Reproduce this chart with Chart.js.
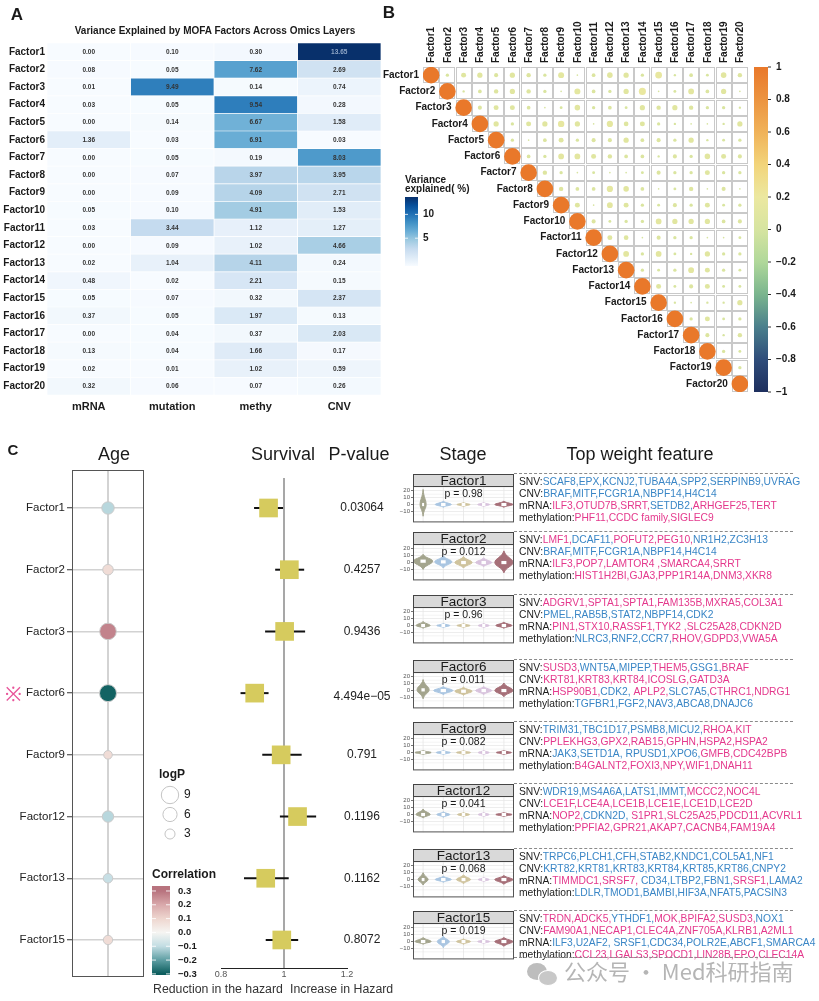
<!DOCTYPE html>
<html>
<head>
<meta charset="utf-8">
<script src="https://cdn.jsdelivr.net/npm/chart.js@4.4.0/dist/chart.umd.min.js"></script>
<style>
  body { margin: 0; width: 819px; height: 1001px; position: relative; background: #fff; overflow: hidden;
         font-family: Arial, 'Liberation Sans', sans-serif; color: #1a1a1a; }
  canvas { position: absolute; }
  .t { position: absolute; white-space: nowrap; }
  .c { transform: translate(-50%, -50%); }
  .feat { position: absolute; white-space: nowrap; font-size: 10.3px; line-height: 12px; color: #1a1a1a; }
  .dash { position: absolute; left: 514px; width: 279px; border-top: 1px dashed #8a8a8a; }
  .b { color: #3a86c6; }
  .p { color: #e4388c; }
</style>
</head>
<body>
<canvas id="heat" width="385" height="420" style="left:0;top:0"></canvas>
<canvas id="corr" width="439" height="410" style="left:380px;top:0"></canvas>
<canvas id="age" width="220" height="560" style="left:0;top:440px"></canvas>
<canvas id="forest" width="200" height="560" style="left:200px;top:440px"></canvas>
<div id="stages"></div>
<div id="texts"></div>

<script>
// ---- panel A: variance explained ----
const factors = ['Factor1','Factor2','Factor3','Factor4','Factor5','Factor6','Factor7','Factor8','Factor9','Factor10',
                 'Factor11','Factor12','Factor13','Factor14','Factor15','Factor16','Factor17','Factor18','Factor19','Factor20'];
const omics = ['mRNA', 'mutation', 'methy', 'CNV'];
const varMRNA     = [0.00,0.08,0.01,0.03,0.00,1.36,0.00,0.00,0.00,0.05,0.03,0.00,0.02,0.48,0.05,0.37,0.00,0.13,0.02,0.32];
const varMutation = [0.10,0.05,9.49,0.05,0.14,0.03,0.05,0.07,0.09,0.10,3.44,0.09,1.04,0.02,0.07,0.05,0.04,0.04,0.01,0.06];
const varMethy    = [0.30,7.62,0.14,9.54,6.67,6.91,0.19,3.97,4.09,4.91,1.12,1.02,4.11,2.21,0.32,1.97,0.37,1.66,1.02,0.07];
const varCNV      = [13.65,2.69,0.74,0.28,1.58,0.03,8.03,3.95,2.71,1.53,1.27,4.66,0.24,0.15,2.37,0.13,2.03,0.17,0.59,0.26];
const varTicks = [10, 5];

// ---- panel B: factor correlations (upper triangle, row i starts at column i+1) ----
const corrUpper = [
  [0.04,0.09,0.10,0.06,0.10,0.07,0.04,0.13,0.01,0.05,0.11,0.10,0.04,0.16,0.02,0.05,0.03,0.11,0.07],
  [0.02,0.05,0.07,0.10,0.07,0.04,0.01,0.13,0.05,0.04,0.10,0.18,0.01,0.03,0.12,0.05,0.10,0.01],
  [0.06,0.09,0.09,0.05,0.01,0.03,0.11,0.04,0.05,0.03,0.10,0.07,0.10,0.07,0.04,0.04,0.02],
  [0.10,0.04,0.09,0.10,0.15,0.10,0.01,0.14,0.08,0.09,0.04,0.02,0.01,0.01,0.02,0.10],
  [0.04,0.01,0.05,0.09,0.04,0.06,0.06,0.10,0.05,0.06,0.04,0.10,0.02,0.03,0.04],
  [0.05,0.04,0.12,0.12,0.09,0.07,0.05,0.05,0.02,0.06,0.04,0.11,0.09,0.06],
  [0.07,0.04,0.01,0.03,0.01,0.01,0.03,0.06,0.04,0.04,0.09,0.04,0.04],
  [0.07,0.05,0.05,0.14,0.11,0.05,0.01,0.03,0.07,0.01,0.06,0.01],
  [0.09,0.01,0.12,0.09,0.04,0.03,0.06,0.04,0.09,0.03,0.04],
  [0.06,0.03,0.04,0.04,0.12,0.10,0.10,0.10,0.05,0.06],
  [0.09,0.08,0.01,0.06,0.04,0.04,0.01,0.01,0.03],
  [0.12,0.04,0.12,0.03,0.02,0.10,0.04,0.04],
  [0.04,0.03,0.04,0.12,0.09,0.04,0.03],
  [0.09,0.03,0.06,0.09,0.03,0.03],
  [0.02,0.01,0.02,0.02,0.10],
  [0.04,0.09,0.03,0.04],
  [0.06,0.02,0.07],
  [0.04,0.03],
  [0.04]
];
const corrTicks = [1, 0.8, 0.6, 0.4, 0.2, 0, -0.2, -0.4, -0.6, -0.8, -1];

// ---- panel C ----
const cFactors = ['Factor1','Factor2','Factor3','Factor6','Factor9','Factor12','Factor13','Factor15'];
const ageCorr = [-0.11, 0.08, 0.27, -0.29, 0.08, -0.11, -0.09, 0.08];
const ageLogP = [4.6, 3.3, 8.2, 8.6, 2.2, 3.9, 2.7, 2.6];
const logPLegend = [9, 6, 3];
const corrLegend = [0.3, 0.2, 0.1, 0.0, -0.1, -0.2, -0.3];
const hrMid  = [0.951, 1.017, 1.002, 0.907, 0.991, 1.043, 0.942, 0.993];
const hrLow  = [0.905, 0.972, 0.940, 0.862, 0.931, 0.987, 0.873, 0.942];
const hrHigh = [0.997, 1.064, 1.067, 0.951, 1.056, 1.102, 1.015, 1.045];
const hrTicks = [0.8, 1, 1.2];
const survP = ['0.03064', '0.4257', '0.9436', '4.494e\u221205', '0.791', '0.1196', '0.1162', '0.8072'];

const stageP = ['0.98', '0.012', '0.96', '0.011', '0.082', '0.041', '0.068', '0.019'];
const stageTicks = [20, 10, 0, -10];
// violin summaries per factor, 5 stage groups each
const stageMin = [[-17,-4,-3,-3,-4],[-10,-8,-8,-6,-15],[-4,-3,-3,-3,-4],[-12,-6,-7,-6,-9],
                  [-3,-3,-3,-3,-3],[-5,-4,-3,-3,-3],[-8,-4,-6,-3,-7],[-4,-9,-4,-3,-7]];
const stageMax = [[22,5,3,3,5],[12,10,9,7,17],[6,3,3,3,5],[16,6,5,6,11],
                  [3,3,3,3,3],[8,4,3,3,3],[10,5,7,3,6],[6,8,4,3,6]];
const stagePeak = [[0,0,0,0,0],[2,1,0,0,0],[0,0,0,0,0],[1,0,-1,0,0],
                   [0,0,0,0,0],[0,0,0,0,0],[0,0,0,0,0],[0,0,0,0,0]];
const stageWidth = [[0.3,0.8,0.65,0.6,0.9],[0.95,0.85,0.85,0.8,0.9],[0.7,0.65,0.65,0.55,0.8],[0.6,0.95,0.85,0.8,0.9],
                    [0.8,0.7,0.7,0.55,0.75],[0.7,0.65,0.6,0.55,0.8],[0.5,0.8,0.7,0.55,0.9],[0.8,0.6,0.7,0.6,0.9]];

// '+' marks a feature written in pink, others in blue
const featSNV = [
  'SCAF8,EPX,KCNJ2,TUBA4A,SPP2,SERPINB9,UVRAG',
  '+LMF1,DCAF11,+POFUT2,+PEG10,NR1H2,ZC3H13',
  '+ADGRV1,+SPTA1,+SPTA1,+FAM135B,+MXRA5,+COL3A1',
  '+SUSD3,WNT5A,MIPEP,+THEM5,GSG1,+BRAF',
  'TRIM31,TBC1D17,PSMB8,MICU2,+RHOA,+KIT',
  'WDR19,MS4A6A,LATS1,IMMT,+MCCC2,+NOC4L',
  'TRPC6,PLCH1,CFH,STAB2,KNDC1,COL5A1,NF1',
  '+TRDN,+ADCK5,YTHDF1,+MOK,+BPIFA2,+SUSD3,NOX1'];
const featCNV = [
  'BRAF,MITF,FCGR1A,NBPF14,H4C14',
  'BRAF,MITF,FCGR1A,NBPF14,H4C14',
  'PMEL,RAB5B,STAT2,NBPF14,CDK2',
  '+KRT81,+KRT83,+KRT84,+ICOSLG,+GATD3A',
  '+PPLEKHG3,+GPX2,+RAB15,+GPHN,+HSPA2,+HSPA2',
  '+LCE1F,+LCE4A,+LCE1B,+LCE1E,+LCE1D,+LCE2D',
  'KRT82,KRT81,KRT83,KRT84,KRT85,KRT86,CNPY2',
  '+FAM90A1,+NECAP1,+CLEC4A,+ZNF705A,+KLRB1,+A2ML1'];
const featMRNA = [
  '+ILF3,+OTUD7B,+SRRT,SETDB2,+ARHGEF25,+TERT',
  '+ILF3,+POP7,+LAMTOR4 ,+SMARCA4,+SRRT',
  '+PIN1,+STX10,+RASSF1,+TYK2 ,+SLC25A28,+CDKN2D',
  '+HSP90B1,CDK2, +APLP2,SLC7A5,+CTHRC1,+NDRG1',
  'JAK3,SETD1A, RPUSD1,XPO6,+GMFB,+CDC42BPB',
  '+NOP2,CDKN2D, +S1PR1,+SLC25A25,+PDCD11,+ACVRL1',
  '+TIMMDC1,+SRSF7, CD34,LTBP2,FBN1,+SRSF1,LAMA2',
  'ILF3,U2AF2, SRSF1,CDC34,POLR2E,ABCF1,SMARCA4'];
const featMeth = [
  '+PHF11,+CCDC family,+SIGLEC9',
  '+HIST1H2BI,+GJA3,+PPP1R14A,+DNM3,+XKR8',
  'NLRC3,RNF2,CCR7,+RHOV,+GDPD3,+VWA5A',
  'TGFBR1,FGF2,NAV3,ABCA8,DNAJC6',
  '+B4GALNT2,+FOXI3,+NPY,+WIF1,+DNAH11',
  '+PPFIA2,+GPR21,+AKAP7,+CACNB4,+FAM19A4',
  'LDLR,TMOD1,BAMBI,HIF3A,NFAT5,PACSIN3',
  '+CCL23,+LGALS3,+SPOCD1,+LIN28B,+EPO,+CLEC14A'];

// ---------------------------------------------------------------
Chart.defaults.font.family = "Arial, 'Liberation Sans', sans-serif";
Chart.defaults.color = '#1a1a1a';
Chart.defaults.animation = false;
Chart.defaults.responsive = false;
Chart.defaults.plugins.legend.display = false;
Chart.defaults.plugins.tooltip.enabled = false;

function hexRgb(h) { return [1, 3, 5].map(i => parseInt(h.slice(i, i + 2), 16)); }
function ramp(stops, t) {
  if (t <= stops[0][0]) return stops[0][1];
  for (let i = 1; i < stops.length; i++) {
    if (t <= stops[i][0]) {
      const [t0, c0] = stops[i - 1], [t1, c1] = stops[i];
      const f = (t - t0) / (t1 - t0), a = hexRgb(c0), b = hexRgb(c1);
      return 'rgb(' + a.map((v, k) => Math.round(v + (b[k] - v) * f)).join(',') + ')';
    }
  }
  return stops[stops.length - 1][1];
}
const bluesStops = [[0,'#f7fbff'],[0.125,'#deebf7'],[0.25,'#c6dbef'],[0.375,'#9ecae1'],[0.5,'#6baed6'],
                    [0.625,'#4292c6'],[0.75,'#2171b5'],[0.875,'#08519c'],[1,'#08306b']];
const corrStops = [[-1,'#1e2f5e'],[-0.8,'#2f4d7a'],[-0.6,'#4a7f8c'],[-0.4,'#7ab58e'],[-0.2,'#b0d89a'],[0,'#d6e4a0'],
                   [0.2,'#ece8a0'],[0.4,'#f2d47a'],[0.6,'#f0b259'],[0.8,'#ec9440'],[1,'#e9782a']];
const divStops = [[-0.3,'#0b5c5c'],[-0.2,'#5e9ea3'],[-0.1,'#c2dde3'],[0,'#f6f5f2'],[0.1,'#eed6cf'],[0.2,'#d9a9ab'],[0.3,'#b8737e']];
const varMax = 13.65;
const blues = v => ramp(bluesStops, v / varMax);

// ---- A: heatmap as stacked horizontal bars ----
const varCols = [varMRNA, varMutation, varMethy, varCNV];
const heatLabels = {
  id: 'heatLabels',
  afterDatasetsDraw(chart) {
    const ctx = chart.ctx;
    ctx.save();
    ctx.font = 'bold 6.5px Arial';
    ctx.textAlign = 'center';
    ctx.textBaseline = 'middle';
    varCols.forEach((vals, c) => {
      chart.getDatasetMeta(c).data.forEach((el, j) => {
        const p = el.getCenterPoint();
        ctx.fillStyle = vals[j] > 12 ? '#8fa6c6' : '#333';
        ctx.fillText(vals[j].toFixed(2), p.x, p.y + 0.5);
      });
    });
    ctx.restore();
  }
};
new Chart(document.getElementById('heat'), {
  type: 'bar',
  data: {
    labels: factors,
    datasets: varCols.map((vals, c) => ({
      label: omics[c],
      data: vals.map(() => 1),
      backgroundColor: ctx => blues(vals[ctx.dataIndex]),
      borderColor: '#ffffff',
      borderWidth: 0.7,
      borderSkipped: false,
      categoryPercentage: 1,
      barPercentage: 1
    }))
  },
  options: {
    indexAxis: 'y',
    layout: { padding: { top: 43, right: 4 } },
    scales: {
      x: {
        stacked: true, min: 0, max: 4,
        grid: { display: false, drawTicks: false }, border: { display: false },
        afterBuildTicks: ax => { ax.ticks = omics.map((o, i) => ({ value: i + 0.5 })); },
        ticks: { callback: v => omics[Math.floor(v)], font: { size: 11, weight: 'bold' }, padding: 5, maxRotation: 0, autoSkip: false },
        afterFit: ax => { ax.height = 25; }
      },
      y: {
        stacked: true,
        grid: { display: false, drawTicks: false }, border: { display: false },
        ticks: { font: { size: 10, weight: 'bold' }, padding: 2, autoSkip: false },
        afterFit: ax => { ax.width = 47; }
      }
    }
  },
  plugins: [heatLabels]
});

// ---- B: correlation plot ----
const corrPoints = [];
factors.forEach((f, i) => corrPoints.push({ x: i + 1, y: i + 1, v: 1 }));
corrUpper.forEach((row, r) => row.forEach((v, k) => corrPoints.push({ x: r + 2 + k, y: r + 1, v })));

const corrDecor = {
  id: 'corrDecor',
  beforeDatasetsDraw(chart) {
    const { ctx, scales: { x, y } } = chart;
    ctx.save();
    ctx.strokeStyle = '#c9c9c9';
    ctx.lineWidth = 1;
    for (let i = 1; i <= factors.length; i++) {
      for (let j = i; j <= factors.length; j++) {
        const x0 = x.getPixelForValue(j - 0.5), x1 = x.getPixelForValue(j + 0.5);
        const y0 = y.getPixelForValue(i - 0.5), y1 = y.getPixelForValue(i + 0.5);
        ctx.strokeRect(Math.round(x0) + 0.5, Math.round(y0) + 0.5, Math.round(x1 - x0) - 1, Math.round(y1 - y0) - 1);
      }
    }
    ctx.restore();
  },
  afterDraw(chart) {
    const { ctx, chartArea: a, scales: { x, y } } = chart;
    ctx.save();
    ctx.fillStyle = '#1a1a1a';
    ctx.font = 'bold 10px Arial';
    // row labels next to the diagonal
    ctx.textAlign = 'right';
    ctx.textBaseline = 'middle';
    factors.forEach((f, i) => ctx.fillText(f, x.getPixelForValue(i + 0.5) - 4, y.getPixelForValue(i + 1)));
    // column labels on top
    factors.forEach((f, i) => {
      ctx.save();
      ctx.translate(x.getPixelForValue(i + 1), a.top - 4);
      ctx.rotate(-Math.PI / 2);
      ctx.textAlign = 'left';
      ctx.fillText(f, 0, 0.5);
      ctx.restore();
    });
    // colour bar
    const bx = a.right + 6, bw = 14;
    const g = ctx.createLinearGradient(0, a.top, 0, a.bottom);
    corrStops.forEach(([t, c]) => g.addColorStop((1 - t) / 2, c));
    ctx.fillStyle = g;
    ctx.fillRect(bx, a.top, bw, a.bottom - a.top);
    ctx.strokeStyle = '#333';
    ctx.lineWidth = 1;
    ctx.fillStyle = '#1a1a1a';
    ctx.textAlign = 'left';
    corrTicks.forEach(t => {
      const ty = a.top + (1 - t) / 2 * (a.bottom - a.top);
      ctx.beginPath(); ctx.moveTo(bx + bw, ty); ctx.lineTo(bx + bw + 3, ty); ctx.stroke();
      ctx.fillText(t === 0 ? '0' : String(t).replace('-', '\u2212'), bx + bw + 8, ty);
    });
    // variance explained legend (for panel A)
    ctx.font = 'bold 10px Arial';
    ctx.textBaseline = 'alphabetic';
    ctx.fillText('Variance', 25, 183);
    ctx.fillText('explained( %)', 25, 191.5);
    const vTop = 197, vBot = 262, lx = 25, lw = 13;
    const vg = ctx.createLinearGradient(0, vTop, 0, vBot + 4);
    bluesStops.forEach(([t, c]) => vg.addColorStop(1 - t, c));
    ctx.fillStyle = vg;
    ctx.fillRect(lx, vTop, lw, vBot + 4 - vTop);
    ctx.textBaseline = 'middle';
    varTicks.forEach(v => {
      const ty = vBot - v / varMax * (vBot - vTop);
      ctx.strokeStyle = 'rgba(255,255,255,0.8)';
      ctx.beginPath(); ctx.moveTo(lx, ty); ctx.lineTo(lx + 3, ty); ctx.moveTo(lx + lw - 3, ty); ctx.lineTo(lx + lw, ty); ctx.stroke();
      ctx.fillStyle = '#1a1a1a';
      ctx.fillText(String(v), lx + lw + 5, ty);
    });
    ctx.restore();
  }
};
new Chart(document.getElementById('corr'), {
  type: 'scatter',
  data: {
    datasets: [{
      data: corrPoints,
      pointRadius: ctx => 8.3 * Math.sqrt(Math.abs(ctx.raw.v)),
      backgroundColor: ctx => ramp(corrStops, ctx.raw.v),
      borderWidth: 0
    }]
  },
  options: {
    layout: { padding: { left: 43, top: 67, right: 71, bottom: 18 } },
    scales: {
      x: { type: 'linear', min: 0.5, max: 20.5, display: false },
      y: { type: 'linear', min: 0.5, max: 20.5, reverse: true, display: false }
    }
  },
  plugins: [corrDecor]
});

// ---- C: age association ----
const logPRadius = v => Math.sqrt(8.4 * v);
const ageDecor = {
  id: 'ageDecor',
  beforeDatasetsDraw(chart) {
    const { ctx, chartArea: a, scales: { x } } = chart;
    ctx.save();
    ctx.strokeStyle = '#c8c8c8';
    ctx.lineWidth = 1.6;
    const cx = x.getPixelForValue(1);
    ctx.beginPath(); ctx.moveTo(cx, a.top); ctx.lineTo(cx, a.bottom); ctx.stroke();
    ctx.restore();
  },
  afterDraw(chart) {
    const { ctx, chartArea: a } = chart;
    ctx.save();
    ctx.strokeStyle = '#555';
    ctx.lineWidth = 1;
    ctx.strokeRect(a.left + 0.5, a.top + 0.5, a.right - a.left - 1, a.bottom - a.top - 1);
    // logP legend
    ctx.fillStyle = '#1a1a1a';
    ctx.font = 'bold 12px Arial';
    ctx.textBaseline = 'middle';
    ctx.fillText('logP', 159, 335);
    ctx.font = '12px Arial';
    logPLegend.forEach((v, i) => {
      const cy = 355 + i * 19.5;
      ctx.strokeStyle = '#c4c4c4';
      ctx.lineWidth = 1;
      ctx.beginPath(); ctx.arc(170, cy, logPRadius(v), 0, Math.PI * 2); ctx.stroke();
      ctx.fillText(String(v), 184, cy);
    });
    // correlation legend
    ctx.font = 'bold 12px Arial';
    ctx.fillText('Correlation', 152, 435);
    const top = 446, bot = 535, bx = 152, bw = 18;
    const hi = 0.336, lo = -0.308;
    const g = ctx.createLinearGradient(0, top, 0, bot);
    divStops.forEach(([t, c]) => g.addColorStop((hi - t) / (hi - lo), c));
    ctx.fillStyle = g;
    ctx.fillRect(bx, top, bw, bot - top);
    ctx.font = 'bold 9.5px Arial';
    corrLegend.forEach(v => {
      const ty = top + (hi - v) / (hi - lo) * (bot - top);
      ctx.strokeStyle = 'rgba(255,255,255,0.85)';
      ctx.beginPath(); ctx.moveTo(bx, ty); ctx.lineTo(bx + 4, ty); ctx.moveTo(bx + bw - 4, ty); ctx.lineTo(bx + bw, ty); ctx.stroke();
      ctx.fillStyle = '#1a1a1a';
      ctx.fillText(v.toFixed(1).replace('-', '\u2212'), bx + 26, ty);
    });
    ctx.restore();
  }
};
new Chart(document.getElementById('age'), {
  type: 'scatter',
  data: {
    datasets: [{
      data: cFactors.map((f, i) => ({ x: 1, y: i + 1 })),
      pointRadius: ctx => logPRadius(ageLogP[ctx.dataIndex]),
      backgroundColor: ctx => ramp(divStops, ageCorr[ctx.dataIndex]),
      borderColor: '#cacaca',
      borderWidth: 1
    }]
  },
  options: {
    layout: { padding: { top: 30, right: 76, bottom: 23 } },
    scales: {
      x: { type: 'linear', min: 0, max: 2, display: false },
      y: {
        type: 'linear', min: 0.384, max: 8.6, reverse: true,
        afterBuildTicks: ax => { ax.ticks = cFactors.map((f, i) => ({ value: i + 1 })); },
        ticks: { callback: v => cFactors[v - 1], font: { size: 11.5 }, color: '#222', padding: 2 },
        grid: { color: '#d2d2d2', lineWidth: 1.5, tickLength: 5, tickColor: '#333', tickWidth: 1 },
        border: { display: false },
        afterFit: ax => { ax.width = 72; }
      }
    }
  },
  plugins: [ageDecor]
});

// ---- C: survival forest plot ----
const forestDecor = {
  id: 'forestDecor',
  beforeDatasetsDraw(chart) {
    const { ctx, chartArea: a, scales: { x, y } } = chart;
    ctx.save();
    ctx.strokeStyle = '#8a8a8a';
    ctx.lineWidth = 1.5;
    const x1 = x.getPixelForValue(1);
    ctx.beginPath(); ctx.moveTo(x1, a.top); ctx.lineTo(x1, a.bottom); ctx.stroke();
    ctx.strokeStyle = '#111';
    ctx.lineWidth = 2;
    cFactors.forEach((f, i) => {
      const yy = y.getPixelForValue(i + 1);
      ctx.beginPath(); ctx.moveTo(x.getPixelForValue(hrLow[i]), yy); ctx.lineTo(x.getPixelForValue(hrHigh[i]), yy); ctx.stroke();
    });
    ctx.restore();
  },
  afterDraw(chart) {
    const { ctx, scales: { y } } = chart;
    ctx.save();
    ctx.fillStyle = '#222';
    ctx.font = '12px Arial';
    ctx.textAlign = 'center';
    ctx.textBaseline = 'middle';
    survP.forEach((p, i) => ctx.fillText(p, 162, y.getPixelForValue(i + 1) + (p.includes('e') ? 4 : 0)));
    ctx.restore();
  }
};
new Chart(document.getElementById('forest'), {
  type: 'scatter',
  data: {
    datasets: [{
      data: hrMid.map((v, i) => ({ x: v, y: i + 1 })),
      pointStyle: 'rect',
      pointRadius: 13.2,
      backgroundColor: '#d6cb5e',
      borderWidth: 0
    }]
  },
  options: {
    layout: { padding: { left: 21, right: 53, top: 38 } },
    scales: {
      x: {
        type: 'linear', min: 0.8, max: 1.2,
        afterBuildTicks: ax => { ax.ticks = hrTicks.map(v => ({ value: v })); },
        ticks: { callback: v => String(v), font: { size: 9 }, color: '#555', padding: 1 },
        grid: { display: false, drawTicks: false },
        border: { display: true, color: '#222', width: 1 },
        afterFit: ax => { ax.height = 32; }
      },
      y: { type: 'linear', min: 0.514, max: 8.454, reverse: true, display: false }
    }
  },
  plugins: [forestDecor]
});

// ---- C: stage violins ----
const blockTop = [473, 531, 594, 659, 721, 783, 848, 910];
const stageColors = ['#a3a48d', '#a9c5e1', '#cfc39d', '#d8c3dd', '#a66f78'];
function violinPath(ctx, cx, top, peak, bottom, hw) {
  const up = peak - top, dn = bottom - peak;
  ctx.beginPath();
  ctx.moveTo(cx, top);
  ctx.bezierCurveTo(cx + hw * 0.2, top + up * 0.55, cx + hw, peak - up * 0.35, cx + hw, peak);
  ctx.bezierCurveTo(cx + hw, peak + dn * 0.35, cx + hw * 0.2, bottom - dn * 0.55, cx, bottom);
  ctx.bezierCurveTo(cx - hw * 0.2, bottom - dn * 0.55, cx - hw, peak + dn * 0.35, cx - hw, peak);
  ctx.bezierCurveTo(cx - hw, peak - up * 0.35, cx - hw * 0.2, top + up * 0.55, cx, top);
  ctx.closePath();
}
cFactors.forEach((name, k) => {
  const cv = document.createElement('canvas');
  cv.width = 120; cv.height = 54;
  cv.style.left = '395px'; cv.style.top = blockTop[k] + 'px';
  document.getElementById('stages').appendChild(cv);
  const decor = {
    id: 'stageDecor',
    beforeDatasetsDraw(chart) {
      const { ctx, chartArea: a, scales: { x, y } } = chart;
      ctx.save();
      ctx.strokeStyle = '#f0f0f0';
      ctx.lineWidth = 0.8;
      [25, 15, 5, -5, -15, -25].forEach(v => {
        const yy = y.getPixelForValue(v);
        ctx.beginPath(); ctx.moveTo(a.left, yy); ctx.lineTo(a.right, yy); ctx.stroke();
      });
      ctx.strokeStyle = '#e6e6e6';
      stageColors.forEach((c, g) => {
        const xx = x.getPixelForValue(g + 1);
        ctx.beginPath(); ctx.moveTo(xx, a.top); ctx.lineTo(xx, a.bottom); ctx.stroke();
      });
      ctx.beginPath(); ctx.rect(a.left, a.top, a.right - a.left, a.bottom - a.top); ctx.clip();
      stageColors.forEach((c, g) => {
        const cx = x.getPixelForValue(g + 1);
        const half = (x.getPixelForValue(2) - x.getPixelForValue(1)) / 2;
        const hw = stageWidth[k][g] * half;
        const pk = y.getPixelForValue(stagePeak[k][g]);
        violinPath(ctx, cx, y.getPixelForValue(stageMax[k][g]), pk, y.getPixelForValue(stageMin[k][g]), hw);
        ctx.fillStyle = c;
        ctx.fill();
        ctx.strokeStyle = c;
        ctx.lineWidth = 1;
        ctx.stroke();
        const bw = Math.max(2, hw * 0.55);
        ctx.fillStyle = '#ffffff';
        ctx.fillRect(cx - bw / 2, pk - 1.6, bw, 3.2);
      });
      ctx.restore();
    },
    afterDraw(chart) {
      const { ctx, chartArea: a } = chart;
      const cx = (a.left + a.right) / 2;
      ctx.save();
      ctx.strokeStyle = '#555';
      ctx.lineWidth = 1;
      ctx.strokeRect(a.left + 0.5, a.top + 0.5, a.right - a.left - 1, a.bottom - a.top - 1);
      ctx.fillStyle = '#d9d9d9';
      ctx.fillRect(a.left, 1, a.right - a.left, a.top - 1);
      ctx.strokeStyle = '#444';
      ctx.strokeRect(a.left + 0.5, 1.5, a.right - a.left - 1, a.top - 1);
      ctx.fillStyle = '#1a1a1a';
      ctx.textAlign = 'center';
      ctx.textBaseline = 'middle';
      ctx.font = '13.5px Arial';
      ctx.fillText(name, cx, a.top / 2 + 1.5);
      ctx.font = '10.5px Arial';
      ctx.fillText('p = ' + stageP[k], cx, a.top + 8);
      ctx.restore();
    }
  };
  new Chart(cv, {
    type: 'scatter',
    data: { datasets: [{ data: stagePeak[k].map((v, g) => ({ x: g + 1, y: v })), pointRadius: 0 }] },
    options: {
      layout: { padding: { top: 13, right: 1, bottom: 3 } },
      scales: {
        x: { type: 'linear', min: 0.5, max: 5.5, display: false },
        y: {
          type: 'linear', min: -26, max: 27,
          afterBuildTicks: ax => { ax.ticks = stageTicks.map(v => ({ value: v })); },
          ticks: { callback: v => String(v).replace('-', '\u2212'), font: { size: 6 }, color: '#555', padding: 1 },
          grid: { color: '#e8e8e8', lineWidth: 0.8, tickLength: 2, tickColor: '#555' },
          border: { display: false },
          afterFit: ax => { ax.width = 18; }
        }
      }
    },
    plugins: [decor]
  });
});

// ---- text ----
const texts = document.getElementById('texts');
function addText(html, x, y, style, centered) {
  const d = document.createElement('div');
  d.className = 't' + (centered ? ' c' : '');
  d.style.cssText += 'left:' + x + 'px;top:' + y + 'px;' + (style || '');
  d.innerHTML = html;
  texts.appendChild(d);
  return d;
}
addText('A', 17, 15, 'font-weight:bold;font-size:17px', true);
addText('B', 389, 13, 'font-weight:bold;font-size:17px', true);
addText('C', 13, 449, 'font-weight:bold;font-size:15px', true);
addText('Variance Explained by MOFA Factors Across Omics Layers', 215, 30, 'font-weight:bold;font-size:10px', true);
addText('Age', 114, 454, 'font-size:18px', true);
addText('Survival', 283, 454, 'font-size:18px', true);
addText('P-value', 359, 454, 'font-size:18px', true);
addText('Stage', 463, 454, 'font-size:18px', true);
addText('Top weight feature', 640, 454, 'font-size:18px', true);
addText('\u203B', 13, 693, 'font-size:20px;color:#e8559a', true);
addText('Reduction in the hazard', 153, 982, 'font-size:12.3px;color:#333');
addText('Increase in Hazard', 290, 982, 'font-size:12.3px;color:#333');

function featHtml(prefix, str) {
  const parts = str.split(',');
  let cls = 'b';
  return prefix + parts.map((tok, i) => {
    cls = tok.includes('+') ? 'p' : 'b';
    const comma = i < parts.length - 1 ? ',' : '';
    return '<span class="' + cls + '">' + tok.replace('+', '').replace(/ /g, '&nbsp;') + comma + '</span>';
  }).join('');
}
cFactors.forEach((name, k) => {
  const top = blockTop[k];
  const dl = document.createElement('div');
  dl.className = 'dash';
  dl.style.top = top + 'px';
  texts.appendChild(dl);
  [['SNV:', featSNV[k]], ['CNV:', featCNV[k]], ['mRNA:', featMRNA[k]], ['methylation:', featMeth[k]]].forEach(([pre, s], l) => {
    const d = document.createElement('div');
    d.className = 'feat';
    d.style.left = '519px';
    d.style.top = (top + 3 + l * 11.9) + 'px';
    d.innerHTML = featHtml(pre, s);
    texts.appendChild(d);
  });
});
const lastDash = document.createElement('div');
lastDash.className = 'dash';
lastDash.style.top = '957px';
texts.appendChild(lastDash);

// watermark
addText('<span style="display:inline-block;position:relative;width:32px;height:24px;vertical-align:middle;margin-right:5px">' +
  '<span style="position:absolute;left:0;top:1px;width:20px;height:17px;border-radius:50%;background:#bdbdbd"></span>' +
  '<span style="position:absolute;left:11px;top:8px;width:18px;height:14px;border-radius:50%;background:#c8c8c8;border:1px solid #fff"></span></span>' +
  '公众号 · Med科研指南', 527, 956,
  "font-family:'Noto Sans CJK SC','Noto Sans',sans-serif;font-size:22px;color:rgba(150,150,150,0.7);line-height:28px");
</script>
</body>
</html>
